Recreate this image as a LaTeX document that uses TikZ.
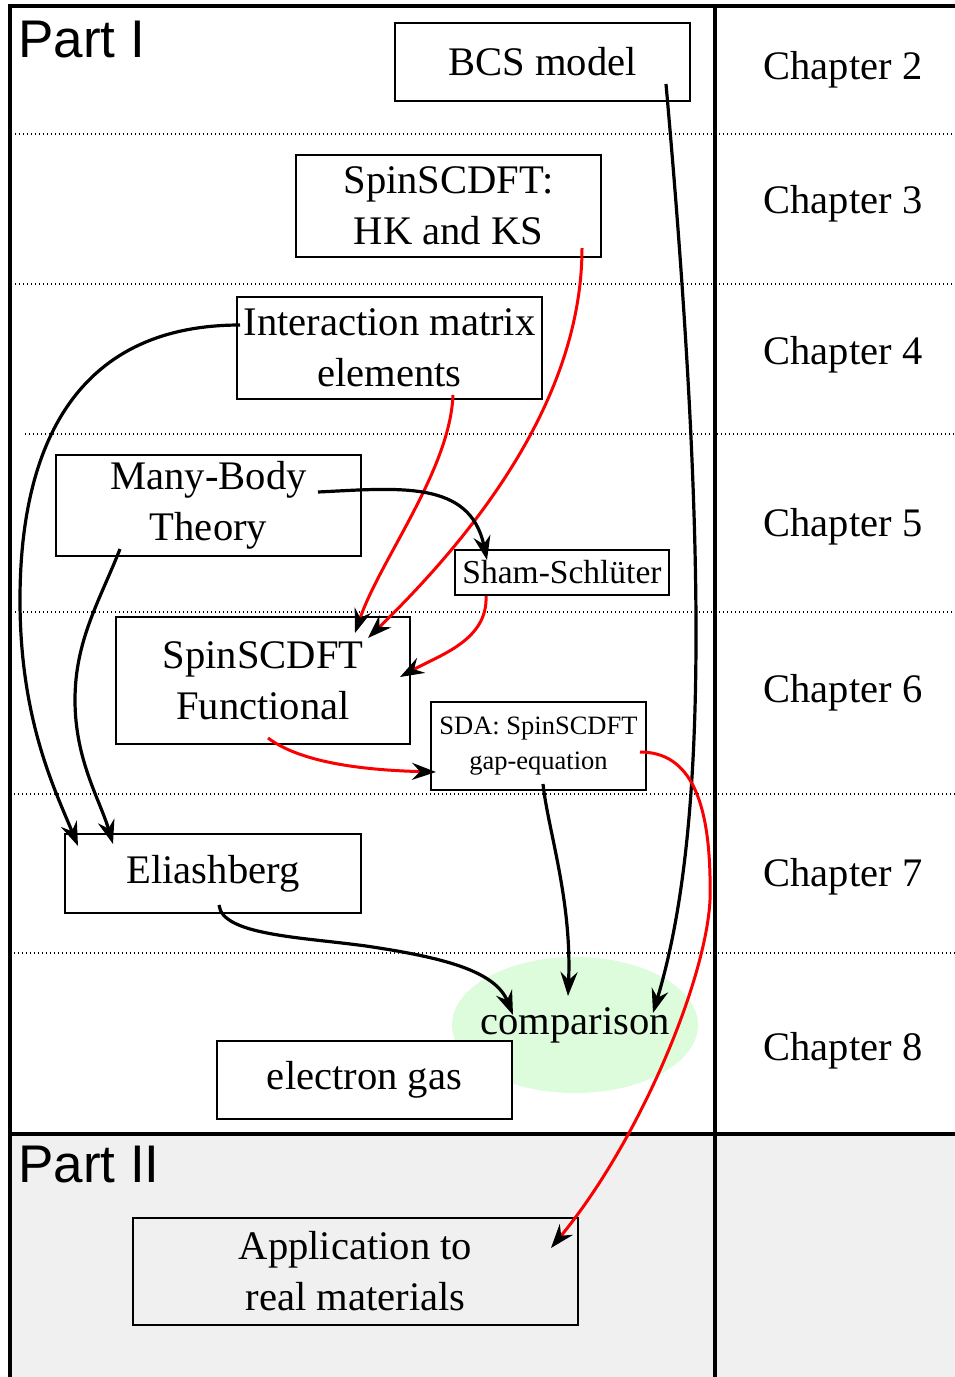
\documentclass[tikz,border=0pt]{standalone}
\usepackage{fontspec}
\setmainfont{Liberation Serif}
\newfontfamily\sansfam{Liberation Sans}
\usetikzlibrary{arrows.meta,calc,shapes.geometric}
\definecolor{partgray}{RGB}{240,240,240}
\definecolor{cmpgreen}{RGB}{220,252,220}
\definecolor{arrred}{RGB}{250,0,0}
\begin{document}
\begin{tikzpicture}[x=1pt,y=-1pt,
  box/.style={draw, line width=1.5pt, inner sep=0pt, align=center, font=\fontsize{40.6}{51}\selectfont},
  chap/.style={anchor=base, inner sep=0pt, font=\fontsize{40.5}{51}\selectfont},
  partlbl/.style={anchor=base west, inner sep=0pt, font=\sansfam\fontsize{53}{60}\selectfont},
  sep/.style={line width=1.4pt, dash pattern=on 1.4pt off 2.6pt},
  frame/.style={line width=3.2pt},
  tipstyle/.style={-{Stealth[length=24pt,width=17pt,inset=8pt,color=black]}},
  arr/.style={tipstyle, line width=3.2pt, black},
  rarr/.style={tipstyle, line width=3pt, arrred}
]
\useasboundingbox (0,0) rectangle (955,1377);
% Part II background
\fill[partgray] (10,1134) rectangle (955,1377);
% chapter separators
\draw[sep] (15,134) -- (955,134);
\draw[sep] (15,284) -- (955,284);
\draw[sep] (25,434) -- (955,434);
\draw[sep] (15,612) -- (955,612);
\draw[sep] (10,794) -- (955,794);
\draw[sep] (10,953) -- (955,953);
% frame
\draw[frame] (10,1377) -- (10,6) -- (955,6);
\draw[frame] (715,6) -- (715,1377);
\draw[frame] (10,1134) -- (955,1134);
% part labels
\node[partlbl] (p1) at (18,57) {Part I};
\node[partlbl] (p2) at (18,1182) {Part II};
% chapter labels
\node[chap] (ch2) at (843,79) {Chapter 2};
\node[chap] (ch3) at (843,213) {Chapter 3};
\node[chap] (ch4) at (843,364) {Chapter 4};
\node[chap] (ch5) at (843,536) {Chapter 5};
\node[chap] (ch6) at (843,702) {Chapter 6};
\node[chap] (ch7) at (843,886) {Chapter 7};
\node[chap] (ch8) at (843,1060) {Chapter 8};
% comparison ellipse background
\node[ellipse, fill=cmpgreen, minimum width=246pt, minimum height=136pt, inner sep=0pt] (cmpbg) at (575,1025) {};
% boxes
\node[box, minimum width=295pt, minimum height=78pt] (bcs) at (542.5,62) {BCS model};
\node[box, minimum width=305pt, minimum height=102pt] (hk) at (448.5,206) {SpinSCDFT:\\HK and KS};
\node[box, minimum width=305pt, minimum height=102pt] (inter) at (389.5,348) {Interaction matrix\\elements};
\node[box, minimum width=305pt, minimum height=101pt] (mbt) at (208.5,505.5) {Many-Body\\Theory};
\node[box, minimum width=214pt, minimum height=45pt, font=\fontsize{33.5}{38}\selectfont] (sham) at (562,572.5) {Sham-Schlüter};
\node[box, minimum width=294pt, minimum height=127pt] (func) at (263,680.5) {SpinSCDFT\\Functional};
\node[box, minimum width=215pt, minimum height=88pt, font=\fontsize{26.5}{35}\selectfont] (sda) at (538.5,746) {SDA: SpinSCDFT\\gap-equation};
\node[box, minimum width=296pt, minimum height=79pt] (eli) at (213,873.5) {Eliashberg};
\node[box, fill=white, minimum width=295pt, minimum height=78pt] (egas) at (364.5,1080) {electron gas};
\node[box, minimum width=445pt, minimum height=107pt] (app) at (355.5,1271.5) {Application to\\real materials};
% connectors
\draw[arr] ($(bcs)+(123.5,22)$) .. controls (712,600) and (702,850) .. ($(cmpbg)+(78,-12)$);
\draw[rarr] ($(hk)+(133.5,42)$) .. controls (582,380) and (500,510) .. ($(func)+(105,-42.5)$);
\draw[rarr] ($(inter)+(63.5,47)$) .. controls (450,470) and (380,560) .. ($(func)+(92,-47.5)$);
\draw[arr] ($(inter)+(-149.5,-23)$) .. controls (60,325) and (20,470) .. (20,600)
   .. controls (20,720) and (55,790) .. ($(eli)+(-135,-27.5)$);
\draw[arr] ($(mbt)+(-88.5,43.5)$) .. controls (100,600) and (75,640) .. (75,700)
   .. controls (75,760) and (100,800) .. ($(eli)+(-100,-29.5)$);
\draw[arr] ($(mbt)+(109.5,-13.5)$) .. controls (400,488) and (470,480) .. ($(sham)+(-75,-12.5)$);
\draw[rarr] ($(sham)+(-76,23.5)$) .. controls (488,640) and (440,655) .. ($(func)+(137,-3.5)$);
\draw[rarr] ($(func)+(5,57.5)$) .. controls (300,762) and (360,770) .. ($(sda)+(-102.5,26)$);
\draw[arr] ($(sda)+(4.5,38)$) .. controls (548,830) and (572,900) .. ($(cmpbg)+(-7,-29)$);
\draw[rarr] ($(sda)+(101.5,6)$) .. controls (690,752) and (712,800) .. (710,900)
   .. controls (706,980) and (640,1140) .. ($(app)+(195.5,-23.5)$);
\draw[arr] ($(eli)+(6,31.5)$) .. controls (222,935) and (300,937) .. (366,946)
   .. controls (440,957) and (495,970) .. ($(cmpbg)+(-62,-10)$);
% comparison label
\node[anchor=base, inner sep=0pt, font=\fontsize{40.6}{51}\selectfont] (cmp) at (575,1034) {comparison};
\end{tikzpicture}
\end{document}
